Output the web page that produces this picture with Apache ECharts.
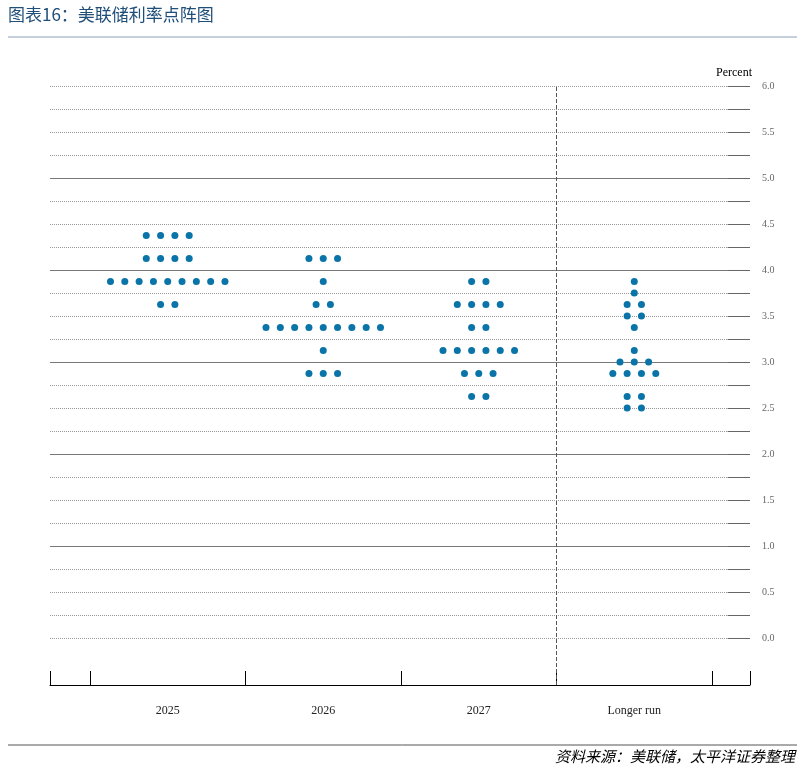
<!DOCTYPE html>
<html><head><meta charset="utf-8">
<script src="https://cdn.jsdelivr.net/npm/echarts@6/dist/echarts.min.js"></script>
<style>body{margin:0;background:#fff}#c{width:805px;height:772px}</style></head>
<body><div id="c"></div>
<script>
const categories = ['2025','2026','2027','Longer run'];
const rates2025 = [[4.375,4],[4.125,4],[3.875,9],[3.625,2]];
const rates2026 = [[4.125,3],[3.875,1],[3.625,2],[3.375,9],[3.125,1],[2.875,3]];
const rates2027 = [[3.875,2],[3.625,4],[3.375,2],[3.125,6],[2.875,3],[2.625,2]];
const ratesLong = [[3.875,1],[3.75,1],[3.625,2],[3.5,2],[3.375,1],[3.125,1],[3.0,3],[2.875,4],[2.625,2],[2.5,2]];
const yTicks = [0,0.25,0.5,0.75,1,1.25,1.5,1.75,2,2.25,2.5,2.75,3,3.25,3.5,3.75,4,4.25,4.5,4.75,5,5.25,5.5,5.75,6];
const allRates = [rates2025, rates2026, rates2027, ratesLong];
const XMIN=-0.757, XMAX=3.744, GAP=0.092;
const pts=[];
allRates.forEach((rows,ci)=>rows.forEach(([r,n])=>{for(let j=0;j<n;j++)pts.push([ci+(j-(n-1)/2)*GAP,r]);}));
const solid=v=>Number.isInteger(v)&&v>0&&v<6;
const lines=yTicks.map(v=>({yAxis:v,lineStyle:{type:solid(v)?'solid':'dotted',color:solid(v)?'#777':'#999',width:1}}));
const stubs=yTicks.map(v=>[{coord:[3.6,v]},{coord:[XMAX,v]}]);
const chart=echarts.init(document.getElementById('c'));
chart.setOption({
 animation:false,
 grid:{left:50,right:55,top:86,bottom:87},
 graphic:[
  {type:'text',left:8,top:6,style:{text:'图表16：美联储利率点阵图',font:'17px "Noto Sans CJK SC"',fill:'#1f4e79'}},
  {type:'line',shape:{x1:8,y1:37,x2:797,y2:37},style:{stroke:'#8aa0b8',lineWidth:1}},
  {type:'line',shape:{x1:8,y1:745,x2:797,y2:745},style:{stroke:'#555',lineWidth:1}},
  {type:'text',right:10,top:749,style:{text:'资料来源：美联储，太平洋证券整理',font:'italic 15px "Noto Sans CJK SC"',fill:'#000'}},
  {type:'text',left:716,top:67,style:{text:'Percent',font:'12px "Liberation Serif"',fill:'#000'}}
 ],
 xAxis:{type:'value',min:XMIN,max:XMAX,splitLine:{show:false},
  axisLine:{show:true,onZero:false,lineStyle:{color:'#000'}},
  axisTick:{show:true,inside:true,length:14,customValues:[XMIN,-0.5,0.5,1.5,2.5,3.5,XMAX],lineStyle:{color:'#000'}},
  axisLabel:{customValues:[0,1,2,3],formatter:v=>categories[Math.round(v)],margin:20,fontFamily:'Liberation Serif',fontSize:12,color:'#222'}},
 yAxis:{type:'value',min:-0.51,max:6,position:'right',splitLine:{show:false},axisLine:{show:false},axisTick:{show:false},
  axisLabel:{customValues:[0,0.5,1,1.5,2,2.5,3,3.5,4,4.5,5,5.5,6],formatter:v=>v.toFixed(1),margin:12,fontFamily:'Liberation Serif',fontSize:10,color:'#666'}},
 series:[
  {type:'scatter',data:pts,symbolSize:7,itemStyle:{color:'#0a74a8',opacity:1},z:5,
   markLine:{silent:true,symbol:'none',label:{show:false},data:lines.concat(stubs.map(s=>[{...s[0],lineStyle:{color:'#666',type:'solid',width:1}},s[1]])).concat([{xAxis:2.5,lineStyle:{type:'dashed',color:'#555',width:1}}])}}
 ]
});
</script></body></html>
